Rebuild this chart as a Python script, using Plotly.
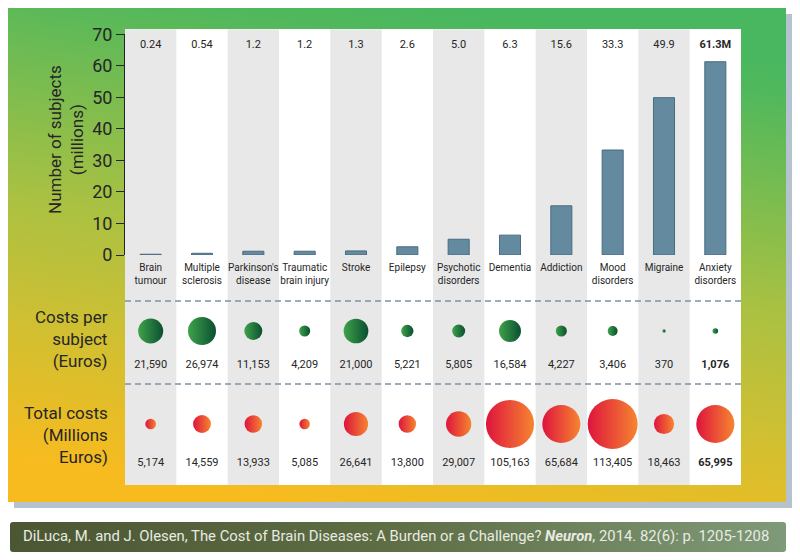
import base64
import plotly.graph_objects as go

categories = ["Brain<br>tumour", "Multiple<br>sclerosis", "Parkinson's<br>disease",
              "Traumatic<br>brain injury", "Stroke", "Epilepsy", "Psychotic<br>disorders",
              "Dementia", "Addiction", "Mood<br>disorders", "Migraine", "Anxiety<br>disorders"]
subjects_m = [0.24, 0.54, 1.2, 1.2, 1.3, 2.6, 5.0, 6.3, 15.6, 33.3, 49.9, 61.3]
cost_per_subject = [21590, 26974, 11153, 4209, 21000, 5221, 5805, 16584, 4227, 3406, 370, 1076]
total_cost_m = [5174, 14559, 13933, 5085, 26641, 13800, 29007, 105163, 65684, 113405, 18463, 65995]
y_ticks = [0, 10, 20, 30, 40, 50, 60, 70]

INK = "#262626"
GRAY_COL = "#e8e8e8"
DASH = "#7b93a7"
FONT = "Roboto"
W, H = 800, 560
OFF = 8   # the page body adds an 8px margin; lay out in window pixels


def px(x):
    return (x - OFF) / W


def py(y):
    return 1 - (y - OFF) / H


def bold_last(labels):
    return labels[:-1] + [f"<b>{labels[-1]}</b>"]


# background art (gradient frame, shadow, white panel, footer) as one svg
svg = f"""<svg xmlns='http://www.w3.org/2000/svg' width='{W}' height='{H}' viewBox='0 0 {W} {H}' preserveAspectRatio='none'>
<defs>
<linearGradient id='bg' x1='0.62' y1='0' x2='0.38' y2='1'>
<stop offset='0' stop-color='#48b760'/><stop offset='0.08' stop-color='#50b85c'/>
<stop offset='0.5' stop-color='#aac142'/><stop offset='0.78' stop-color='#d6bf2f'/>
<stop offset='1' stop-color='#f7bb1f'/></linearGradient>
<linearGradient id='ft' x1='0' y1='0' x2='1' y2='0'>
<stop offset='0' stop-color='#4b5633'/><stop offset='0.5' stop-color='#5f6e45'/>
<stop offset='1' stop-color='#7f9a79'/></linearGradient>
</defs>
<rect x='0' y='0' width='{W}' height='{H}' fill='#ffffff'/>
<g transform='translate(-{OFF},-{OFF})'>
<rect x='14' y='14' width='778' height='494' fill='#b4c3cf'/>
<rect x='8' y='8' width='778' height='494' fill='url(#bg)'/>
<rect x='125' y='29' width='616' height='456' fill='#ffffff'/>
<rect x='10' y='522' width='776' height='30' rx='3' fill='url(#ft)'/>
</g>
</svg>"""
svg_uri = "data:image/svg+xml;base64," + base64.b64encode(svg.encode()).decode()

fig = go.Figure()

# bars: number of subjects
fig.add_trace(go.Bar(
    x=categories, y=subjects_m, width=0.41,
    marker=dict(color="#638a9f", line=dict(color="#4b6b80", width=1)),
    hoverinfo="skip"))

# value labels above the panel
top_labels = [f"{v:.2f}" if v < 1 else f"{v:.1f}" for v in subjects_m]
top_labels[-1] = top_labels[-1] + "M"
fig.add_trace(go.Scatter(
    x=categories, y=[45] * len(categories), yaxis="y2", mode="text",
    text=bold_last(top_labels), textfont=dict(family=FONT, size=11, color=INK),
    hoverinfo="skip"))

# costs per subject (area-proportional green circles)
max_cps = max(cost_per_subject)
fig.add_trace(go.Scatter(
    x=categories, y=[331] * len(categories), yaxis="y2", mode="markers",
    marker=dict(size=[28 * (v / max_cps) ** 0.5 for v in cost_per_subject],
                color="#3fa24b", opacity=1, line=dict(width=0),
                gradient=dict(type="horizontal", color="#0a4f30")),
    hoverinfo="skip"))
fig.add_trace(go.Scatter(
    x=categories, y=[365] * len(categories), yaxis="y2", mode="text",
    text=bold_last([f"{v:,}" for v in cost_per_subject]),
    textfont=dict(family=FONT, size=11, color=INK), hoverinfo="skip"))

# total costs (area-proportional red/orange circles)
max_tc = max(total_cost_m)
fig.add_trace(go.Scatter(
    x=categories, y=[424] * len(categories), yaxis="y2", mode="markers",
    marker=dict(size=[50 * (v / max_tc) ** 0.5 for v in total_cost_m],
                color="#de143d", opacity=1, line=dict(width=0),
                gradient=dict(type="horizontal", color="#f68530")),
    hoverinfo="skip"))
fig.add_trace(go.Scatter(
    x=categories, y=[463] * len(categories), yaxis="y2", mode="text",
    text=bold_last([f"{v:,}" for v in total_cost_m]),
    textfont=dict(family=FONT, size=11, color=INK), hoverinfo="skip"))

# alternating gray columns and dashed separators
shapes = []
for i in range(0, len(categories), 2):
    shapes.append(dict(type="rect", xref="x", yref="paper", x0=i - 0.5, x1=i + 0.5,
                       y0=py(485), y1=py(29.3), fillcolor=GRAY_COL, line_width=0,
                       layer="below"))
for yy in (301, 384):
    shapes.append(dict(type="line", xref="x domain", yref="paper", x0=0, x1=1,
                       y0=py(yy), y1=py(yy),
                       line=dict(color=DASH, width=1.5, dash="6px,4px")))

label_font = dict(family=FONT, size=17, color=INK)
annotations = [
    dict(text="Number of subjects<br>(millions)", textangle=-90, xref="paper", yref="paper",
         x=px(66), y=py(139), xanchor="center", yanchor="middle", showarrow=False,
         font=label_font),
    dict(text="Costs per<br>subject<br>(Euros)", xref="paper", yref="paper", x=px(110),
         y=py(339), xanchor="right", yanchor="middle", align="right", showarrow=False,
         font=label_font),
    dict(text="Total costs<br>(Millions<br>Euros)", xref="paper", yref="paper", x=px(110),
         y=py(435), xanchor="right", yanchor="middle", align="right", showarrow=False,
         font=label_font),
    dict(text="DiLuca, M. and J. Olesen, The Cost of Brain Diseases: A Burden or a Challenge? "
              "<b><i>Neuron</i></b>, 2014. 82(6): p. 1205-1208",
         xref="paper", yref="paper", x=px(21), y=py(536), xanchor="left", yanchor="middle",
         showarrow=False, font=dict(family=FONT, size=14.85, color="#e8ebe2")),
]

fig.update_layout(
    width=W, height=H, margin=dict(l=0, r=0, t=0, b=0, autoexpand=False),
    paper_bgcolor="white", plot_bgcolor="rgba(0,0,0,0)", showlegend=False,
    images=[dict(source=svg_uri, xref="paper", yref="paper", x=0, y=1, sizex=1, sizey=1,
                 sizing="stretch", xanchor="left", yanchor="top", layer="below")],
    shapes=shapes, annotations=annotations,
    xaxis=dict(domain=[px(125), px(741)], anchor="y", range=[-0.5, 11.5], automargin=False,
               showgrid=False, zeroline=False, showline=False, ticks="", tickangle=0,
               tickfont=dict(family=FONT, size=10, color=INK), ticklabelstandoff=5),
    yaxis=dict(domain=[py(255), py(34.3)], range=[0, 70], tickvals=y_ticks, automargin=False,
               showgrid=False, zeroline=False, showline=True, linecolor=INK, linewidth=1,
               ticks="outside", ticklen=8, tickcolor=INK,
               tickfont=dict(family=FONT, size=18, color=INK)),
    yaxis2=dict(domain=[0, 1], range=[H + OFF, OFF], anchor="x", visible=False,
                showgrid=False, zeroline=False),
)

fig.write_html("out.html")
